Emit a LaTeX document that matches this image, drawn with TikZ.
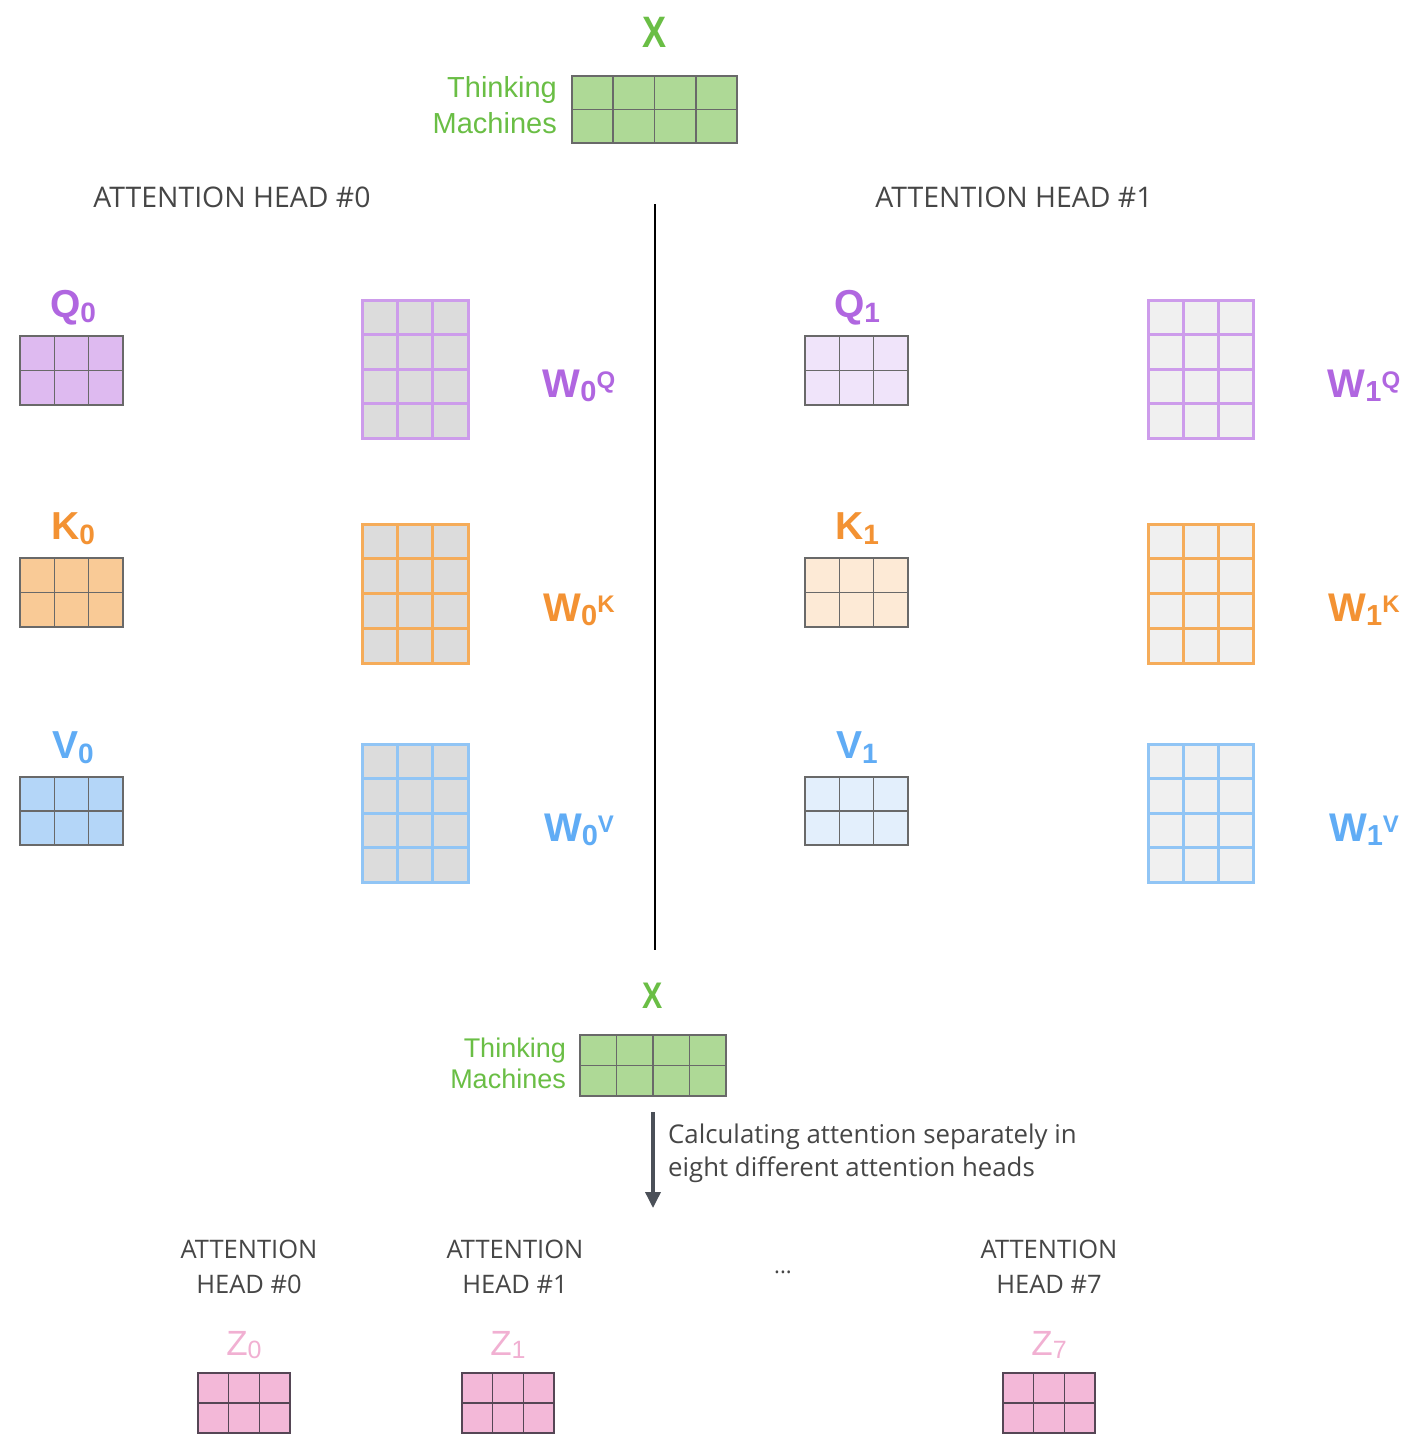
\documentclass[tikz,border=0pt]{standalone}
\usepackage{fontspec}
\setmainfont{Liberation Sans}
\newfontfamily\hdrfont{Open Sans}
\usetikzlibrary{calc,arrows.meta}
\definecolor{xgreen}{RGB}{106,190,69}
\definecolor{xfill}{RGB}{174,217,150}
\definecolor{gridgray}{RGB}{105,105,105}
\definecolor{purp}{RGB}{176,102,224}
\definecolor{qfill}{RGB}{222,186,240}
\definecolor{qfilll}{RGB}{240,228,250}
\definecolor{purpb}{RGB}{205,156,235}
\definecolor{orng}{RGB}{243,146,51}
\definecolor{kfill}{RGB}{249,202,150}
\definecolor{kfilll}{RGB}{253,234,214}
\definecolor{orngb}{RGB}{245,172,90}
\definecolor{blu}{RGB}{96,172,245}
\definecolor{vfill}{RGB}{180,214,248}
\definecolor{vfilll}{RGB}{227,239,252}
\definecolor{blub}{RGB}{145,197,245}
\definecolor{wgray}{RGB}{220,220,220}
\definecolor{wgrayl}{RGB}{240,240,240}
\definecolor{pinkl}{RGB}{241,176,210}
\definecolor{zfill}{RGB}{243,184,216}
\definecolor{zline}{RGB}{85,70,85}
\definecolor{hdrc}{RGB}{70,70,70}
\definecolor{arrowc}{RGB}{75,80,88}
\newcommand{\mgrid}[9]{%
  \node[fill=#8, minimum width=#4pt, minimum height=#5pt, anchor=north west,
        inner sep=0pt, outer sep=0pt] (#1) at (#2,#3) {};
  \foreach \k in {0,...,#6} {\draw[#9] ($(#1.north west)!\k/#6!(#1.north east)$) -- ($(#1.south west)!\k/#6!(#1.south east)$);}
  \foreach \k in {0,...,#7} {\draw[#9] ($(#1.north west)!\k/#7!(#1.south west)$) -- ($(#1.north east)!\k/#7!(#1.south east)$);}
}
\tikzset{
  thinline/.style={draw=gridgray, line width=1.6pt, line cap=rect},
  zgline/.style={draw=zline, line width=1.6pt, line cap=rect},
  wqline/.style={draw=purpb, line width=3pt, line cap=rect},
  wkline/.style={draw=orngb, line width=3pt, line cap=rect},
  wvline/.style={draw=blub, line width=3pt, line cap=rect},
  lbl/.style={anchor=base, inner sep=0pt, font={\fontsize{39}{39}\selectfont\bfseries}},
  wlbl/.style={anchor=base, inner sep=0pt, font={\fontsize{40}{40}\selectfont\bfseries}},
  xlbl/.style={anchor=base, inner sep=0pt, text=xgreen, font={\fontsize{44}{44}\selectfont\bfseries}},
  thinktxt/.style={anchor=base east, inner sep=0pt, text=xgreen, font={\fontsize{29}{29}\selectfont}},
  thinktxts/.style={anchor=base east, inner sep=0pt, text=xgreen, font={\fontsize{27}{27}\selectfont}},
  hdr/.style={inner sep=0pt, text=hdrc, font={\hdrfont\fontsize{28.4}{28.4}\selectfont}},
  hdrs/.style={inner sep=0pt, text=hdrc, font={\hdrfont\fontsize{25.5}{25.5}\selectfont}},
  captxt/.style={anchor=base west, inner sep=0pt, text=hdrc, font={\hdrfont\fontsize{25.8}{25.8}\selectfont}},
  zlbl/.style={anchor=base, inner sep=0pt, text=pinkl, font={\fontsize{35}{35}\selectfont}},
}
\newcommand{\sub}[1]{\raisebox{-5pt}{\fontsize{28}{28}\selectfont #1}}
\newcommand{\wsub}[2]{\raisebox{-4pt}{\fontsize{29}{29}\selectfont #1}\raisebox{9pt}{\fontsize{24}{24}\selectfont #2}}
\newcommand{\zsub}[1]{\raisebox{-3pt}{\fontsize{25}{25}\selectfont #1}}
\begin{document}
\begin{tikzpicture}[x=1pt,y=-1pt]
\useasboundingbox[fill=white] (0,0) rectangle (1407,1440);
% top X
\node[xlbl] (xtoplab) at (655,47) {\scalebox{0.82}[1]{X}};
\mgrid{xtop}{572}{76}{165}{67}{4}{2}{xfill}{thinline}
\node[thinktxt] (think1) at (557,97) {Thinking};
\node[thinktxt] (mach1) at (557,133) {Machines};
% headers
\node[hdr] (head0) at (232,197) {ATTENTION HEAD \#0};
\node[hdr] (head1) at (1014,197) {ATTENTION HEAD \#1};
% divider
\coordinate (vtop) at (655,204);
\coordinate (vbot) at (655,950);
\draw[line width=2.5pt] (vtop) -- (vbot);
% head 0 left
\node[lbl, text=purp] (q0lab) at (73,317) {Q\sub{0}};
\mgrid{q0}{20}{336}{103}{69}{3}{2}{qfill}{thinline}
\node[lbl, text=orng] (k0lab) at (73,539) {K\sub{0}};
\mgrid{k0}{20}{558}{103}{69}{3}{2}{kfill}{thinline}
\node[lbl, text=blu] (v0lab) at (73,758) {V\sub{0}};
\mgrid{v0}{20}{777}{103}{68}{3}{2}{vfill}{thinline}
\mgrid{w0q}{362}{300}{106}{138}{3}{4}{wgray}{wqline}
\mgrid{w0k}{362}{524}{106}{139}{3}{4}{wgray}{wkline}
\mgrid{w0v}{362}{744}{106}{138}{3}{4}{wgray}{wvline}
\node[wlbl, text=purp] (w0qlab) at (579,397) {W\wsub{0}{Q}};
\node[wlbl, text=orng] (w0klab) at (579,621) {W\wsub{0}{K}};
\node[wlbl, text=blu] (w0vlab) at (579,841) {W\wsub{0}{V}};
% head 1 right
\node[lbl, text=purp] (q1lab) at (857,317) {Q\sub{1}};
\mgrid{q1}{805}{336}{103}{69}{3}{2}{qfilll}{thinline}
\node[lbl, text=orng] (k1lab) at (857,539) {K\sub{1}};
\mgrid{k1}{805}{558}{103}{69}{3}{2}{kfilll}{thinline}
\node[lbl, text=blu] (v1lab) at (857,758) {V\sub{1}};
\mgrid{v1}{805}{777}{103}{68}{3}{2}{vfilll}{thinline}
\mgrid{w1q}{1148}{300}{105}{138}{3}{4}{wgrayl}{wqline}
\mgrid{w1k}{1148}{524}{105}{139}{3}{4}{wgrayl}{wkline}
\mgrid{w1v}{1148}{744}{105}{138}{3}{4}{wgrayl}{wvline}
\node[wlbl, text=purp] (w1qlab) at (1364,397) {W\wsub{1}{Q}};
\node[wlbl, text=orng] (w1klab) at (1364,621) {W\wsub{1}{K}};
\node[wlbl, text=blu] (w1vlab) at (1364,841) {W\wsub{1}{V}};
% bottom X
\node[xlbl, font={\fontsize{37}{37}\selectfont\bfseries}] (xbotlab) at (653,1008) {\scalebox{0.82}[1]{X}};
\mgrid{xbot}{580}{1035}{146}{61}{4}{2}{xfill}{thinline}
\node[thinktxts] (think2) at (566,1057) {Thinking};
\node[thinktxts] (mach2) at (566,1088) {Machines};
% arrow
\coordinate (atop) at (653,1112);
\coordinate (abot) at (653,1208);
\draw[draw=arrowc, line width=3.5pt, -{Triangle[width=15pt,length=16pt]}] (atop) -- (abot);
\node[captxt] (cap1) at (668,1143) {Calculating attention separately in};
\node[captxt] (cap2) at (668,1176) {eight different attention heads};
% bottom heads
\node[hdrs] (bh0a) at (249,1249) {ATTENTION};
\node[hdrs] (bh0b) at (249,1284) {HEAD \#0};
\node[hdrs] (bh1a) at (515,1249) {ATTENTION};
\node[hdrs] (bh1b) at (515,1284) {HEAD \#1};
\node[hdrs] (bh7a) at (1049,1249) {ATTENTION};
\node[hdrs] (bh7b) at (1049,1284) {HEAD \#7};
\node[inner sep=0pt, text=hdrc, font={\hdrfont\fontsize{22}{22}\selectfont}] (dots) at (783,1272) {...};
\node[zlbl] (z0lab) at (244,1355) {Z\zsub{0}};
\mgrid{z0}{198}{1373}{92}{60}{3}{2}{zfill}{zgline}
\node[zlbl] (z1lab) at (508,1355) {Z\zsub{1}};
\mgrid{z1}{462}{1373}{92}{60}{3}{2}{zfill}{zgline}
\node[zlbl] (z7lab) at (1049,1355) {Z\zsub{7}};
\mgrid{z7}{1003}{1373}{92}{60}{3}{2}{zfill}{zgline}
\end{tikzpicture}
\end{document}
